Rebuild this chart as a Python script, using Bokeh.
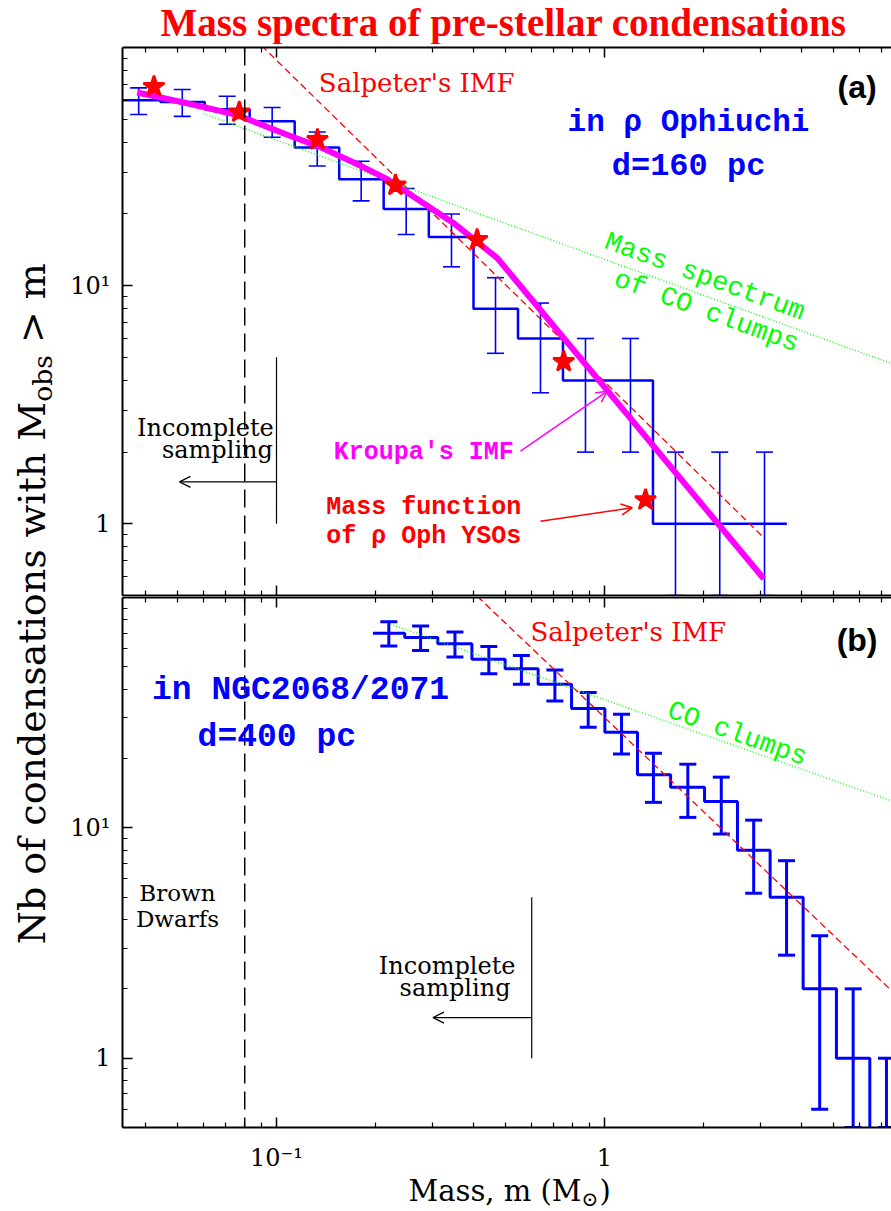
import numpy as np
from bokeh.plotting import figure
from bokeh.models import (Range1d, LogAxis, FixedTicker, Whisker, TeeHead, ColumnDataSource,
                          Label, Span, Arrow, OpenHead, CustomJSTickFormatter)
from bokeh.layouts import row, column
from bokeh.embed import file_html
from bokeh.resources import INLINE

# ---------------- data ----------------
# Panel (a): rho Ophiuchi, cumulative mass spectrum of condensations
mass_a = [0.0380, 0.0516, 0.0707, 0.0970, 0.1331, 0.1812, 0.2485, 0.3416,
          0.4653, 0.638, 0.875, 1.20, 1.646, 2.246, 3.075]
count_a = [60, 59, 55, 49, 38, 28, 21, 16, 8, 6, 4, 4, 1, 1, 1]
err_a = [7.7, 7.6, 7.4, 7.0, 6.2, 5.3, 4.6, 4.0, 2.8, 2.45, 2.0, 2.0, 1.0, 1.0, 1.0]

# Mass function of rho Oph YSOs (red stars)
yso_mass = [0.0423, 0.077, 0.1333, 0.2306, 0.409, 0.751, 1.334]
yso_count = [68.5, 53.5, 41.0, 26.4, 15.6, 4.8, 1.26]

# Kroupa's IMF (magenta)
kroupa_mass = [0.0376, 0.0534, 0.0755, 0.1078, 0.1362, 0.172, 0.2176, 0.2748, 0.347, 0.471, 3.06]
kroupa_count = [64.7, 58.3, 52.2, 43.0, 38.1, 32.9, 28.0, 22.6, 18.3, 13.06, 0.588]

# Salpeter's IMF and CO clumps spectrum, panel (a)
salp_a_mass = [0.09, 3.06]
salp_a_count = [101.9, 0.874]
co_a_mass = [0.06, 7.6]
co_a_count = [52.7, 4.68]

# Panel (b): NGC2068/2071
mass_b = [0.220, 0.275, 0.350, 0.444, 0.558, 0.706, 0.892, 1.127, 1.41, 1.795,
          2.27, 2.85, 3.59, 4.53, 5.73, 7.24]
count_b = [70, 67, 63, 54, 49, 42, 33, 26, 17, 15, 13, 8, 5, 2, 1, 0]
err_b = [8.4, 8.2, 7.9, 7.3, 7.0, 6.5, 5.7, 5.1, 4.1, 3.9, 3.6, 2.8, 2.2, 1.4, 1.0, 1.0]

salp_b_mass = [0.41, 7.6]
salp_b_count = [101.0, 1.93]
co_b_mass = [0.2226, 7.6]
co_b_count = [76.7, 13.0]

bd_limit = 0.08          # brown dwarf limit (Msun)
incompl_a = 0.1          # incompleteness limit, panel (a)
incompl_b = 0.6          # incompleteness limit, panel (b)

x_ticks = [0.1, 1]
x_tick_labels = ["10\u207b\u00b9", "1"]
x_minor = [0.04, 0.05, 0.06, 0.07, 0.08, 0.09, 0.2, 0.3, 0.4, 0.5, 0.6, 0.7, 0.8, 0.9,
           2, 3, 4, 5, 6, 7, 8, 9]
y_ticks = [1, 10]
y_tick_labels = ["1", "10\u00b9"]
y_minor = [0.5, 0.6, 0.7, 0.8, 0.9, 2, 3, 4, 5, 6, 7, 8, 9, 20, 30, 40, 50, 60, 70, 80, 90]

X_START, X_END = 0.03392, 7.5
Y_START, Y_END = 0.5, 100.0

SERIF = "DejaVu Serif"
MONO = "Liberation Mono"
SANS = "Liberation Sans"
TIMES = "Liberation Serif"
# distance from the vertical centre of the text box to the baseline, in em
K_BASE = {SERIF: 0.346, TIMES: 0.3375, SANS: 0.3465, MONO: 0.266}
LEFT_W = 60
PANEL_W = 891 - LEFT_W
FRAME_LEFT = 122 - LEFT_W


def step_path(centers, counts, floor):
    lc = np.log10(np.asarray(centers, float))
    n = np.maximum(np.asarray(counts, float), floor)
    mids = (lc[:-1] + lc[1:]) / 2
    left = np.concatenate([[lc[0] - (lc[1] - lc[0]) / 2], mids])
    right = np.concatenate([mids, [lc[-1] + (lc[-1] - lc[-2]) / 2]])
    xs = np.empty(2 * len(lc)); ys = np.empty(2 * len(lc))
    xs[0::2] = 10 ** left; xs[1::2] = 10 ** right
    ys[0::2] = n; ys[1::2] = n
    return xs, ys


def style_axis(ax, ticks, minor, labels):
    ax.ticker = FixedTicker(ticks=ticks, minor_ticks=minor)
    ax.axis_line_width = 2
    ax.axis_line_color = "black"
    ax.major_tick_in = 10
    ax.major_tick_out = 0
    ax.minor_tick_in = 5
    ax.minor_tick_out = 0
    ax.major_tick_line_width = 1.5
    ax.minor_tick_line_width = 1.2
    ax.major_tick_line_color = "black"
    ax.minor_tick_line_color = "black"
    if labels is None:
        ax.formatter = CustomJSTickFormatter(code="return '';")
        ax.major_label_text_font_size = "1px"
        ax.major_label_standoff = 0
    else:
        ax.formatter = CustomJSTickFormatter(
            args=dict(t=list(ticks), l=list(labels)),
            code="for (let i = 0; i < t.length; i++) { if (Math.abs(tick - t[i]) < 1e-9 * t[i]) return l[i]; } return '';")
        ax.major_label_text_font = SERIF
        ax.major_label_text_font_size = "24px"
        ax.major_label_text_color = "black"


def text(p, x, y, s, font, size, color, style="normal", align="left", angle=0.0):
    """(x, y) is the baseline anchor; the label is centred on the text box and shifted."""
    k = K_BASE[font] * size
    th = np.deg2rad(angle)
    p.add_layout(Label(x=x, y=y, text=s, text_font=font, text_font_size=f"{size}px",
                       text_color=color, text_font_style=style, text_align=align,
                       text_baseline="middle", angle=angle, angle_units="deg",
                       x_offset=float(-k * np.sin(th)), y_offset=float(k * np.cos(th))))


def text_fig(h):
    f = figure(width=PANEL_W, height=h, x_axis_type="log", x_range=Range1d(X_START, X_END),
               y_range=Range1d(0, h), min_border_left=FRAME_LEFT, min_border_right=0,
               min_border_top=0, min_border_bottom=0, toolbar_location=None,
               output_backend="svg", x_axis_location=None, y_axis_location=None)
    f.grid.visible = False
    f.outline_line_color = None
    return f


def make_panel(height, top, bottom, xlabels):
    p = figure(width=PANEL_W, height=height, x_axis_type="log", y_axis_type="log",
               x_range=Range1d(X_START, X_END), y_range=Range1d(Y_START, Y_END),
               min_border_left=FRAME_LEFT, min_border_right=0, min_border_top=top,
               min_border_bottom=bottom, toolbar_location=None, output_backend="svg")
    p.grid.visible = False
    p.outline_line_color = None
    p.background_fill_color = "white"
    p.border_fill_color = "white"
    style_axis(p.xaxis[0], x_ticks, x_minor, x_tick_labels if xlabels else None)
    style_axis(p.yaxis[0], y_ticks, y_minor, y_tick_labels)
    p.yaxis[0].major_label_standoff = 12
    if xlabels:
        p.xaxis[0].major_label_standoff = 16
    top_ax = LogAxis()
    style_axis(top_ax, x_ticks, x_minor, None)
    p.add_layout(top_ax, "above")
    p.add_layout(Span(location=bd_limit, dimension="height", line_color="black",
                      line_dash="18 8", line_width=1.5))
    return p


# ---------------- title ----------------
pt = text_fig(44)
text(pt, 0.4921, 9, "Mass spectra of pre-stellar condensations", TIMES, 39, "red",
     style="bold", align="center")

# ---------------- panel (a) ----------------
pa = make_panel(552, 3, 1, False)

sx, sy = step_path(mass_a, count_a, 0.1)
pa.line(sx, sy, line_color="blue", line_width=2.5)
lo_a = np.maximum(np.array(count_a, float) - np.array(err_a), Y_START)
hi_a = np.array(count_a, float) + np.array(err_a)
src_a = ColumnDataSource(dict(m=mass_a, lo=lo_a, hi=hi_a))
pa.add_layout(Whisker(source=src_a, base="m", lower="lo", upper="hi", dimension="height",
                      line_color="blue", line_width=1.6,
                      upper_head=TeeHead(size=17, line_color="blue", line_width=1.6),
                      lower_head=TeeHead(size=17, line_color="blue", line_width=1.6)))
pa.line(salp_a_mass, salp_a_count, line_color="red", line_width=1.3, line_dash="7 4")
pa.line(co_a_mass, co_a_count, line_color="#00ff00", line_width=1.3, line_dash="1 2")
pa.line(kroupa_mass, kroupa_count, line_color="magenta", line_width=6)
pa.scatter(yso_mass, yso_count, marker="star", size=22, fill_color="red",
           line_color="red", line_width=2.5)

# incomplete sampling marker
pa.segment(x0=[incompl_a], y0=[1.0], x1=[incompl_a], y1=[5.0], line_color="black", line_width=1.2)
pa.add_layout(Arrow(x_start=incompl_a, y_start=1.5, x_end=0.0506, y_end=1.5,
                    line_color="black", line_width=1.2,
                    end=OpenHead(size=11, line_color="black", line_width=1.2)))
pa.add_layout(Arrow(x_start=0.5545, y_start=2.018, x_end=1.019, y_end=3.60,
                    line_color="magenta", line_width=1.5,
                    end=OpenHead(size=11, line_color="magenta", line_width=1.5)))
pa.add_layout(Arrow(x_start=0.638, y_start=1.026, x_end=1.215, y_end=1.167,
                    line_color="red", line_width=1.5,
                    end=OpenHead(size=11, line_color="red", line_width=1.5)))

text(pa, 0.1346, 65.3, "Salpeter's IMF", SERIF, 26, "red")
text(pa, 5.89, 61.2, "(a)", SANS, 32, "black", style="bold", align="center")
text(pa, 1.804, 44.7, "in \u03c1 Ophiuchi", MONO, 31, "blue", style="bold", align="center")
text(pa, 1.804, 29.2, "d=160 pc", MONO, 32, "blue", style="bold", align="center")
text(pa, 1.986, 10.17, "Mass spectrum", MONO, 27, "#00ff00", align="center", angle=-20)
text(pa, 2.008, 7.28, "of CO clumps", MONO, 27, "#00ff00", align="center", angle=-20)
text(pa, 0.2812, 1.863, "Kroupa's IMF", MONO, 25, "magenta", style="bold", align="center")
text(pa, 0.2812, 1.095, "Mass function", MONO, 25, "red", style="bold", align="center")
text(pa, 0.2812, 0.832, "of \u03c1 Oph YSOs", MONO, 25, "red", style="bold", align="center")
text(pa, 0.0981, 2.333, "Incomplete", SERIF, 24, "black", align="right")
text(pa, 0.0975, 1.891, "sampling", SERIF, 24, "black", align="right")

# ---------------- panel (b) ----------------
pb = make_panel(578, 1, 45, True)

sx, sy = step_path(mass_b, count_b, 0.1)
pb.line(sx, sy, line_color="blue", line_width=3)
lo_b = np.maximum(np.array(count_b, float) - np.array(err_b), Y_START)
hi_b = np.array(count_b, float) + np.array(err_b)
src_b = ColumnDataSource(dict(m=mass_b, lo=lo_b, hi=hi_b))
pb.add_layout(Whisker(source=src_b, base="m", lower="lo", upper="hi", dimension="height",
                      line_color="blue", line_width=3,
                      upper_head=TeeHead(size=17, line_color="blue", line_width=3),
                      lower_head=TeeHead(size=17, line_color="blue", line_width=3)))
pb.line(salp_b_mass, salp_b_count, line_color="red", line_width=1.3, line_dash="7 4")
pb.line(co_b_mass, co_b_count, line_color="#00ff00", line_width=1.3, line_dash="1 2")

pb.segment(x0=[incompl_b], y0=[1.0], x1=[incompl_b], y1=[5.0], line_color="black", line_width=1.2)
pb.add_layout(Arrow(x_start=incompl_b, y_start=1.5, x_end=0.30, y_end=1.5,
                    line_color="black", line_width=1.2,
                    end=OpenHead(size=11, line_color="black", line_width=1.2)))

text(pb, 0.5948, 64.6, "Salpeter's IMF", SERIF, 26, "red")
text(pb, 5.89, 58.5, "(b)", SANS, 32, "black", style="bold", align="center")
text(pb, 0.1184, 36.2, "in NGC2068/2071", MONO, 33, "blue", style="bold", align="center")
text(pb, 0.1002, 22.6, "d=400 pc", MONO, 33, "blue", style="bold", align="center")
text(pb, 2.494, 23.8, "CO clumps", MONO, 27, "#00ff00", align="center", angle=-19.5)
text(pb, 0.0499, 4.81, "Brown", SERIF, 23, "black", align="center")
text(pb, 0.0499, 3.70, "Dwarfs", SERIF, 23, "black", align="center")
text(pb, 0.5355, 2.324, "Incomplete", SERIF, 24, "black", align="right")
text(pb, 0.517, 1.85, "sampling", SERIF, 24, "black", align="right")

# ---------------- x-axis label: Mass, m (M_sun) ----------------
px = text_fig(36)
text(px, 0.8509, 9, "Mass, m (M", SERIF, 29, "black", align="right")
text(px, 0.8509, 5, "\u2299", SERIF, 20, "black", align="left")
text(px, 0.9655, 9, ")", SERIF, 29, "black", align="left")

# ---------------- y-axis label column ----------------
pl = figure(width=LEFT_W, height=1210, x_range=Range1d(0, LEFT_W), y_range=Range1d(0, 1210),
            min_border=0, toolbar_location=None, output_backend="svg",
            x_axis_location=None, y_axis_location=None)
pl.grid.visible = False
pl.outline_line_color = None
text(pl, 45, 808.7, "Nb of condensations with M", SERIF, 38, "black", align="right", angle=90)
text(pl, 51, 808.7, "obs", SERIF, 26.6, "black", align="left", angle=90)
text(pl, 45, 867.4, "> m", SERIF, 38, "black", align="left", angle=90)

layout = row(pl, column(pt, pa, pb, px))
open("out.html", "w").write(file_html(layout, INLINE))
